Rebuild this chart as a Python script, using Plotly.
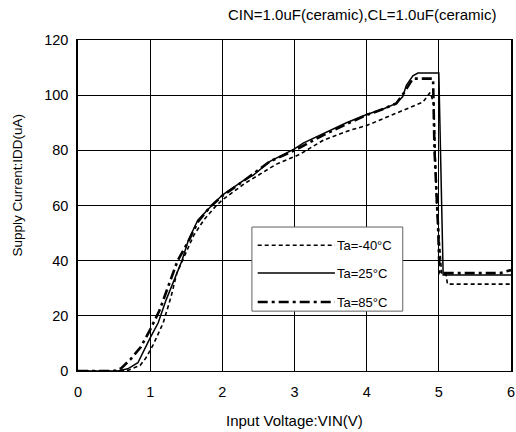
import plotly.graph_objects as go

# ---- data ----
series_names = ["Ta=-40°C", "Ta=25°C", "Ta=85°C"]

vin_m40 = [0, 0.5, 0.7, 0.86, 0.94, 1.04, 1.18, 1.29, 1.37, 1.48, 1.6, 1.75, 1.9, 2.0, 2.31, 2.75,
           3.07, 3.4, 3.77, 4.0, 4.28, 4.63, 4.78, 4.88, 4.93, 4.97, 5.04, 5.1, 5.12, 6.0]
idd_m40 = [0, 0, 0.3, 2, 4.7, 9.4, 17.4, 27, 35.5, 42, 49, 55, 59.5, 62, 68, 75,
           78.5, 83.7, 87.3, 89, 92, 95.6, 97.5, 101, 97, 60, 35, 35, 31.5, 31.5]

vin_25 = [0, 0.55, 0.69, 0.83, 1.0, 1.11, 1.22, 1.44, 1.53, 1.66, 1.83, 2.0, 2.29, 2.43, 2.66,
          3.0, 3.12, 3.4, 3.72, 4.0, 4.23, 4.41, 4.5, 4.55, 4.64, 4.71, 5.0, 5.06, 6.0]
idd_25 = [0, 0, 0.8, 3, 12, 17.4, 25.7, 40, 47.5, 54.7, 59.4, 63.8, 69, 71, 76,
          80.5, 82.6, 86, 90, 93, 95, 97, 99.5, 103.6, 107, 108, 108, 34.8, 34.8]

vin_85 = [0, 0.5, 0.6, 0.73, 0.87, 1.0, 1.13, 1.25, 1.38, 1.53, 1.66, 1.83, 2.0, 2.3, 2.66,
          3.0, 3.4, 3.72, 4.0, 4.23, 4.41, 4.52, 4.64, 4.92, 4.94, 4.99, 5.01, 5.85, 6.0]
idd_85 = [0, 0, 1, 4.3, 8.7, 15, 22, 31, 40, 47, 54, 59.5, 63.5, 69, 76,
          80, 85.5, 89.5, 92.8, 95, 97, 101, 106, 106, 80, 52, 35.5, 35.5, 36.6]

x_ticks = [0, 1, 2, 3, 4, 5, 6]
y_ticks = [0, 20, 40, 60, 80, 100, 120]

title_text = "CIN=1.0uF(ceramic),CL=1.0uF(ceramic)"
x_title = "Input Voltage:VIN(V)"
y_title = "Supply Current:IDD(uA)"

FONT = "Liberation Sans, Arial, sans-serif"
FS = 14.5

styles = [
    dict(color="black", width=1.6, dash="4px,3px"),
    dict(color="black", width=1.5, dash="solid"),
    dict(color="black", width=2.6, dash="10px,4px,3px,4px"),
]

fig = go.Figure()
for name, xs, ys, st in zip(series_names, [vin_m40, vin_25, vin_85],
                            [idd_m40, idd_25, idd_85], styles):
    fig.add_trace(go.Scatter(x=xs, y=ys, mode="lines", name=name, line=st,
                             showlegend=False))

# custom legend box (drawn over the grid)
shapes = [dict(type="rect", xref="x", yref="y", x0=2.41, x1=4.5, y0=21.7, y1=52.2,
               fillcolor="white", line=dict(color="#606060", width=1), layer="above")]
annotations = []
row_y = [45.6, 35.5, 25.0]
for name, st, yy in zip(series_names, styles, row_y):
    shapes.append(dict(type="line", xref="x", yref="y", x0=2.49, x1=3.56, y0=yy, y1=yy,
                       line=st, layer="above"))
    annotations.append(dict(x=3.56, y=yy, xref="x", yref="y", text=name, showarrow=False,
                            xanchor="left", yanchor="middle",
                            font=dict(family=FONT, size=13, color="black")))

annotations.append(dict(x=1.0, y=1.0, xref="paper", yref="paper", text=title_text,
                        showarrow=False, xanchor="right", yanchor="middle",
                        xshift=-13, yshift=26,
                        font=dict(family=FONT, size=15, color="black")))
annotations.append(dict(x=0.5, y=0, xref="paper", yref="paper", text=x_title,
                        showarrow=False, xanchor="center", yanchor="middle",
                        yshift=-49, font=dict(family=FONT, size=15, color="black")))
annotations.append(dict(x=0, y=0.5, xref="paper", yref="paper", text=y_title,
                        showarrow=False, xanchor="center", yanchor="middle", textangle=-90,
                        xshift=-61, yshift=20, font=dict(family=FONT, size=13.5, color="black")))

fig.update_layout(
    width=516, height=432,
    margin=dict(l=78, r=5, t=40, b=61, autoexpand=False),
    paper_bgcolor="white", plot_bgcolor="white",
    font=dict(family=FONT, size=FS, color="black"),
    shapes=shapes,
    annotations=annotations,
)

fig.update_xaxes(range=[0, 6], tickvals=x_ticks, ticks="", showgrid=True,
                 gridcolor="black", gridwidth=1, zeroline=False, automargin=False,
                 showline=True, linecolor="black", linewidth=1, mirror=True,
                 ticklabelstandoff=8, ticklabeloverflow="allow", tickfont=dict(size=FS))
fig.update_yaxes(range=[0, 120], tickvals=y_ticks, ticks="", showgrid=True,
                 gridcolor="black", gridwidth=1, zeroline=False, automargin=False,
                 showline=True, linecolor="black", linewidth=1.5, mirror=True,
                 ticklabelstandoff=5, ticklabeloverflow="allow", tickfont=dict(size=FS))

# remove the page's default 8px body margin so the 516x432 figure fills the window exactly
fig.write_html("out.html", config={"displayModeBar": False},
               post_script="document.body.style.margin='0';document.body.style.overflow='hidden';")
